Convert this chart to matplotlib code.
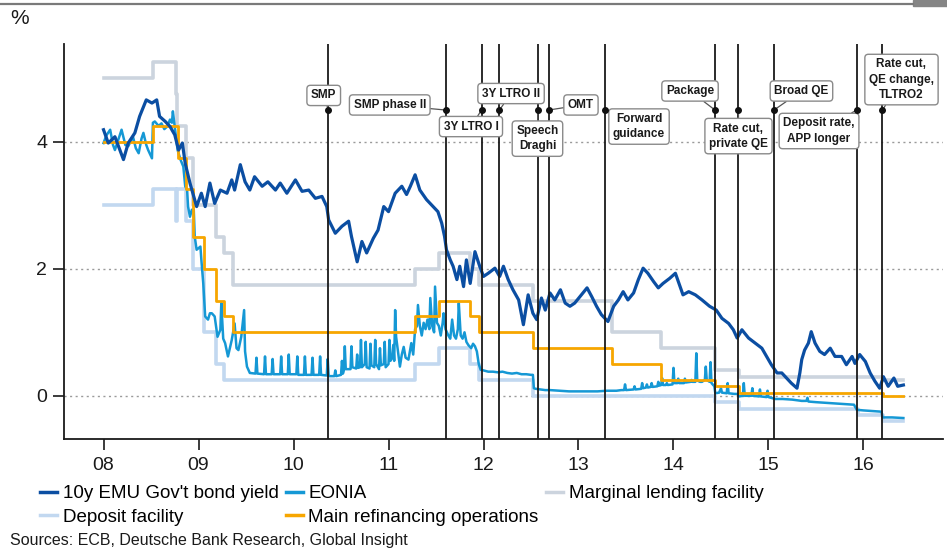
import matplotlib
matplotlib.use("Agg")
import matplotlib.pyplot as plt
import pandas as pd
from matplotlib.lines import Line2D
from matplotlib.patches import Rectangle

plt.rcParams['font.family'] = ['Liberation Sans', 'DejaVu Sans']

# ---------------- data ----------------
bond_t = [2008.00, 2008.05, 2008.12, 2008.21, 2008.26, 2008.33, 2008.38, 2008.45, 2008.51, 2008.56,
          2008.59, 2008.65, 2008.70, 2008.75, 2008.79, 2008.83, 2008.86, 2008.91, 2008.95, 2008.98,
          2009.03, 2009.07, 2009.12, 2009.17, 2009.23, 2009.30, 2009.35, 2009.38, 2009.44, 2009.49,
          2009.54, 2009.59, 2009.67, 2009.73, 2009.81, 2009.86, 2009.93, 2010.02, 2010.09, 2010.16,
          2010.23, 2010.30, 2010.35, 2010.37, 2010.44, 2010.51, 2010.58, 2010.61, 2010.67, 2010.72,
          2010.77, 2010.84, 2010.89, 2010.95, 2011.00, 2011.07, 2011.14, 2011.19, 2011.23, 2011.28,
          2011.33, 2011.40, 2011.47, 2011.52, 2011.56, 2011.59, 2011.61, 2011.65, 2011.68, 2011.72,
          2011.75, 2011.79, 2011.82, 2011.86, 2011.91, 2011.96, 2012.00, 2012.05, 2012.12, 2012.17,
          2012.21, 2012.26, 2012.31, 2012.37, 2012.42, 2012.47, 2012.52, 2012.56, 2012.61, 2012.65,
          2012.70, 2012.75, 2012.81, 2012.86, 2012.91, 2012.96, 2013.03, 2013.09, 2013.14, 2013.19,
          2013.24, 2013.31, 2013.37, 2013.42, 2013.47, 2013.52, 2013.58, 2013.63, 2013.68, 2013.73,
          2013.79, 2013.84, 2013.89, 2013.96, 2014.02, 2014.07, 2014.10, 2014.16, 2014.23, 2014.30,
          2014.38, 2014.45, 2014.51, 2014.58, 2014.63, 2014.67, 2014.72, 2014.79, 2014.86, 2014.93,
          2014.98, 2015.03, 2015.09, 2015.14, 2015.19, 2015.24, 2015.30, 2015.33, 2015.35, 2015.38,
          2015.42, 2015.45, 2015.49, 2015.54, 2015.59, 2015.65, 2015.70, 2015.77, 2015.82, 2015.88,
          2015.91, 2015.96, 2016.02, 2016.07, 2016.12, 2016.17, 2016.21, 2016.26, 2016.32, 2016.36,
          2016.42]
bond_v = [4.19, 3.98, 4.08, 3.72, 3.98, 4.14, 4.40, 4.66, 4.61, 4.66,
          4.40, 4.32, 4.24, 4.11, 3.87, 3.98, 3.66, 3.35, 3.14, 2.98,
          3.19, 2.98, 3.35, 3.03, 3.24, 3.19, 3.40, 3.24, 3.64, 3.37,
          3.24, 3.45, 3.30, 3.37, 3.24, 3.35, 3.19, 3.40, 3.22, 3.24,
          3.11, 3.14, 2.98, 2.77, 2.56, 2.67, 2.75, 2.51, 2.11, 2.43,
          2.25, 2.48, 2.61, 2.98, 2.90, 3.19, 3.30, 3.17, 3.30, 3.48,
          3.24, 3.09, 2.98, 2.90, 2.72, 2.51, 2.30, 2.14, 2.04, 1.83,
          2.04, 1.72, 2.14, 1.77, 2.27, 2.04, 1.88, 1.93, 2.01, 1.88,
          2.04, 1.83, 1.67, 1.51, 1.12, 1.59, 1.30, 1.20, 1.54, 1.35,
          1.62, 1.51, 1.67, 1.46, 1.41, 1.46, 1.59, 1.70, 1.56, 1.41,
          1.28, 1.17, 1.41, 1.51, 1.64, 1.51, 1.62, 1.83, 2.01, 1.93,
          1.80, 1.70, 1.77, 1.85, 1.93, 1.72, 1.59, 1.64, 1.59, 1.51,
          1.41, 1.35, 1.22, 1.14, 1.04, 0.91, 1.04, 0.91, 0.83, 0.75,
          0.62, 0.49, 0.36, 0.36, 0.28, 0.20, 0.12, 0.36, 0.57, 0.72,
          0.83, 1.01, 0.83, 0.70, 0.65, 0.75, 0.62, 0.62, 0.49, 0.62,
          0.51, 0.65, 0.54, 0.36, 0.23, 0.12, 0.30, 0.15, 0.28, 0.15,
          0.17]

eonia_t = [2008.00, 2008.03, 2008.07, 2008.10, 2008.12, 2008.16, 2008.19, 2008.23, 2008.26, 2008.31,
           2008.34, 2008.37, 2008.40, 2008.42, 2008.45, 2008.47, 2008.51, 2008.52, 2008.54, 2008.58,
           2008.61, 2008.64, 2008.67, 2008.70, 2008.72, 2008.73, 2008.75, 2008.78, 2008.81, 2008.84,
           2008.86, 2008.88, 2008.89, 2008.91, 2008.93, 2008.95, 2008.96, 2008.98, 2009.02, 2009.03,
           2009.05, 2009.07, 2009.10, 2009.12, 2009.14, 2009.17, 2009.20, 2009.23, 2009.24, 2009.26,
           2009.28, 2009.31, 2009.35, 2009.38, 2009.40, 2009.42, 2009.45, 2009.48, 2009.49, 2009.51,
           2009.54,
           2009.60, 2009.61, 2009.62, 2009.69, 2009.70, 2009.71, 2009.77, 2009.78, 2009.79,
           2009.86, 2009.87, 2009.88, 2009.94, 2009.95, 2009.96, 2010.03, 2010.04, 2010.05,
           2010.11, 2010.12, 2010.13, 2010.19, 2010.20, 2010.21, 2010.27, 2010.28, 2010.29,
           2010.35, 2010.36, 2010.37, 2010.43, 2010.44, 2010.45, 2010.50, 2010.51, 2010.52,
           2010.53, 2010.54, 2010.55, 2010.60, 2010.61, 2010.62, 2010.66, 2010.67, 2010.68,
           2010.70, 2010.71, 2010.72, 2010.75, 2010.76, 2010.77, 2010.80, 2010.81, 2010.82,
           2010.85, 2010.86, 2010.87, 2010.90, 2010.91, 2010.92, 2010.95, 2010.96, 2010.97,
           2011.00, 2011.01, 2011.02, 2011.04, 2011.05, 2011.06,
           2011.07, 2011.08, 2011.10, 2011.12, 2011.14, 2011.16, 2011.18, 2011.21, 2011.23, 2011.24,
           2011.26, 2011.28, 2011.30, 2011.31, 2011.33, 2011.35, 2011.37, 2011.39, 2011.41, 2011.43,
           2011.44, 2011.46, 2011.48, 2011.49, 2011.51, 2011.53, 2011.55, 2011.57, 2011.58, 2011.60,
           2011.63, 2011.65, 2011.67, 2011.69, 2011.71, 2011.73, 2011.74, 2011.76, 2011.78, 2011.80,
           2011.82, 2011.84, 2011.87, 2011.89, 2011.91, 2011.93, 2011.95, 2011.97, 2012.00, 2012.05,
           2012.10, 2012.15, 2012.20, 2012.25, 2012.30, 2012.35, 2012.40, 2012.45, 2012.50, 2012.52,
           2012.53, 2012.55, 2012.60, 2012.65, 2012.70, 2012.80, 2012.90, 2013.00, 2013.10, 2013.20,
           2013.30, 2013.40, 2013.45, 2013.48, 2013.49, 2013.50, 2013.58, 2013.59, 2013.60, 2013.66,
           2013.67, 2013.68, 2013.71, 2013.72, 2013.73, 2013.76, 2013.77, 2013.78, 2013.83, 2013.84,
           2013.85, 2013.87, 2013.88, 2013.89, 2013.92, 2013.93, 2013.94, 2013.99, 2014.00, 2014.01,
           2014.04, 2014.05, 2014.06, 2014.11, 2014.12, 2014.13, 2014.18, 2014.19, 2014.20, 2014.23,
           2014.24, 2014.25, 2014.28, 2014.30, 2014.33, 2014.34, 2014.35, 2014.38, 2014.39, 2014.40,
           2014.43, 2014.44, 2014.48, 2014.50, 2014.51, 2014.56, 2014.57, 2014.58, 2014.64, 2014.67,
           2014.69, 2014.73, 2014.74, 2014.75, 2014.82, 2014.83, 2014.84, 2014.90, 2014.91, 2014.92,
           2014.98, 2014.99, 2015.00, 2015.07, 2015.15, 2015.25, 2015.35, 2015.40, 2015.41, 2015.42,
           2015.50, 2015.60, 2015.70, 2015.80, 2015.90, 2015.93, 2016.00, 2016.10, 2016.19, 2016.20,
           2016.30, 2016.42]
eonia_v = [3.98, 4.10, 4.19, 3.95, 3.87, 4.05, 4.19, 3.95, 3.93, 4.08,
           3.90, 3.82, 4.05, 4.14, 3.95, 3.87, 3.74, 4.30, 4.32, 4.25,
           4.29, 4.20, 4.24, 4.35, 4.30, 4.48, 4.24, 3.87, 3.72, 3.61,
           3.30, 3.24, 2.98, 2.82, 2.93, 2.93, 2.51, 2.30, 2.35, 2.14,
           1.77, 1.25, 1.20, 1.30, 1.30, 1.25, 0.93, 1.04, 1.46, 0.90,
           0.83, 0.62, 0.88, 1.14, 0.75, 0.72, 0.93, 1.35, 0.70, 0.46,
           0.36,
           0.35, 0.60, 0.35, 0.34, 0.62, 0.34, 0.34, 0.58, 0.34,
           0.34, 0.62, 0.34, 0.34, 0.65, 0.34, 0.34, 0.62, 0.33,
           0.33, 0.62, 0.33, 0.33, 0.60, 0.33, 0.33, 0.62, 0.33,
           0.32, 0.58, 0.31, 0.31, 0.40, 0.31, 0.33, 0.55, 0.35,
           0.40, 0.78, 0.42, 0.42, 0.78, 0.45, 0.43, 0.65, 0.44,
           0.45, 0.88, 0.45, 0.50, 0.85, 0.45, 0.43, 0.82, 0.48,
           0.45, 0.88, 0.50, 0.42, 0.75, 0.48, 0.50, 0.85, 0.45,
           0.50, 0.88, 0.55, 0.60, 0.80, 0.55,
           1.35, 0.93, 0.70, 0.46, 0.65, 0.77, 0.60, 0.57, 0.75, 0.83,
           0.65, 1.05, 1.10, 1.43, 1.10, 0.95, 1.15, 1.05, 1.20, 1.05,
           1.54, 1.10, 1.00, 1.72, 1.15, 1.10, 0.95, 1.15, 1.30, 1.05,
           0.95, 0.90, 1.20, 0.95, 0.90, 1.05, 1.46, 0.95, 0.90, 1.00,
           0.85, 0.80, 0.75, 0.82, 0.78, 0.70, 0.50, 0.41, 0.40, 0.38,
           0.38, 0.37, 0.38, 0.36, 0.35, 0.36, 0.34, 0.34, 0.33, 0.33,
           0.12, 0.11, 0.10, 0.09, 0.09, 0.08, 0.07, 0.07, 0.07, 0.07,
           0.08, 0.08, 0.09, 0.09, 0.18, 0.09, 0.10, 0.15, 0.10, 0.11,
           0.20, 0.12, 0.13, 0.18, 0.13, 0.14, 0.20, 0.14, 0.15, 0.22,
           0.16, 0.17, 0.28, 0.17, 0.17, 0.20, 0.17, 0.18, 0.44, 0.20,
           0.20, 0.27, 0.20, 0.20, 0.27, 0.21, 0.22, 0.25, 0.22, 0.22,
           0.67, 0.24, 0.22, 0.22, 0.25, 0.46, 0.25, 0.22, 0.53, 0.20,
           0.15, 0.04, 0.05, 0.12, 0.05, 0.04, 0.20, 0.04, 0.03, 0.03,
           -0.01, 0.00, 0.20, 0.00, 0.00, 0.12, 0.00, -0.01, 0.10, -0.01,
           -0.02, 0.08, -0.02, -0.05, -0.05, -0.06, -0.08, -0.08, -0.03, -0.09,
           -0.10, -0.11, -0.12, -0.13, -0.14, -0.22, -0.23, -0.24, -0.25, -0.34,
           -0.34, -0.35]

rate_dates = ['2008-01-01', '2008-07-09', '2008-10-08', '2008-10-09', '2008-10-15', '2008-11-12',
              '2008-12-10', '2009-01-21', '2009-03-11', '2009-04-08', '2009-05-13', '2011-04-13',
              '2011-07-13', '2011-11-09', '2011-12-14', '2012-07-11', '2013-05-08', '2013-11-13',
              '2014-06-11', '2014-09-10', '2015-12-09', '2016-03-16', '2016-06-03']
mlf_rate = [5.00, 5.25, 4.75, 4.25, 4.25, 3.75, 3.00, 3.00, 2.50, 2.25, 1.75, 2.00,
            2.25, 2.00, 1.75, 1.50, 1.00, 0.75, 0.40, 0.30, 0.30, 0.25, 0.25]
mro_rate = [4.00, 4.25, 4.25, 4.25, 3.75, 3.25, 2.50, 2.00, 1.50, 1.25, 1.00, 1.25,
            1.50, 1.25, 1.00, 0.75, 0.50, 0.25, 0.15, 0.05, 0.05, 0.00, 0.00]
dep_rate = [3.00, 3.25, 2.75, 3.25, 3.25, 2.75, 2.00, 1.00, 0.50, 0.25, 0.25, 0.50,
            0.75, 0.50, 0.25, 0.00, 0.00, 0.00, -0.10, -0.20, -0.30, -0.40, -0.40]

event_t = [2010.367, 2011.605, 2011.979, 2012.168, 2012.571, 2012.686, 2013.274,
           2014.437, 2014.684, 2015.058, 2015.929, 2016.200]
event_label = ['SMP', 'SMP phase II', '3Y LTRO I', '3Y LTRO II', 'Speech\nDraghi', 'OMT',
               'Forward\nguidance', 'Package', 'Rate cut,\nprivate QE', 'Broad QE',
               'Deposit rate,\nAPP longer', 'Rate cut,\nQE change,\nTLTRO2']
label_x = [2010.318, 2011.013, 2011.868, 2012.290, 2012.568, 2013.026, 2013.637,
           2014.174, 2014.684, 2015.347, 2015.532, 2016.400]
label_y = [4.73, 4.58, 4.24, 4.76, 4.05, 4.58, 4.24, 4.80, 4.09, 4.80, 4.17, 4.98]
event_dot_y = 4.5

year_ticks = [2008, 2009, 2010, 2011, 2012, 2013, 2014, 2015, 2016]
year_labels = ['08', '09', '10', '11', '12', '13', '14', '15', '16']
y_ticks = [0, 2, 4]


def dec_year(s):
    d = pd.Timestamp(s)
    ndays = 366 if d.is_leap_year else 365
    return d.year + (d.dayofyear - 1) / ndays


rate_t = [dec_year(s) for s in rate_dates]

# ---------------- figure ----------------
W, H = 947, 551
fig = plt.figure(figsize=(W / 100, H / 100), dpi=100)
ax = fig.add_axes([64 / W, 1 - 439 / H, (943 - 64) / W, (439 - 44) / H])
ax.set_xlim(2007.584, 2016.837)
ax.set_ylim(-0.68, 5.54)

for yv in y_ticks:
    ax.axhline(yv, color='#9a9a9a', lw=1.0, ls=(0, (1.5, 2.5)), zorder=0.5)

c_bond = '#0B4EA2'
c_eonia = '#1598D5'
c_mlf = '#CCD4DE'
c_dep = '#C2D8F0'
c_mro = '#F7A600'

l_mlf, = ax.step(rate_t, mlf_rate, where='post', color=c_mlf, lw=2.6, zorder=1)
l_dep, = ax.step(rate_t, dep_rate, where='post', color=c_dep, lw=2.6, zorder=1.1)
l_eon, = ax.plot(eonia_t, eonia_v, color=c_eonia, lw=1.8, zorder=2)
l_mro, = ax.step(rate_t, mro_rate, where='post', color=c_mro, lw=2.0, zorder=2.2)
l_bond, = ax.plot(bond_t, bond_v, color=c_bond, lw=2.3, zorder=2.5)

for t in event_t:
    ax.axvline(t, color='#1a1a1a', lw=1.3, zorder=3)
ax.scatter(event_t, [event_dot_y] * len(event_t), s=16, color='#111111', zorder=7)

for t, lab, lx, ly in zip(event_t, event_label, label_x, label_y):
    ax.annotate(lab, xy=(t, event_dot_y), xytext=(lx, ly), ha='center', va='center',
                fontsize=8.5, fontweight='bold', color='#1a1a1a', linespacing=1.35,
                bbox=dict(boxstyle='round,pad=0.35,rounding_size=0.3', fc='white',
                          ec='#8a8a8a', lw=1.0),
                arrowprops=dict(arrowstyle='-', color='#555555', lw=0.9,
                                shrinkA=0, shrinkB=0),
                zorder=6)

ax.set_xticks(year_ticks)
ax.set_xticklabels(year_labels)
ax.set_yticks(y_ticks)
ax.set_yticklabels([str(v) for v in y_ticks])
ax.tick_params(axis='both', direction='out', length=8, width=1.2, color='#1a1a1a',
               labelsize=14, labelcolor='#1a1a1a')
ax.tick_params(axis='x', pad=5)
ax.tick_params(axis='y', pad=4)
for side in ['top', 'right']:
    ax.spines[side].set_visible(False)
for side in ['left', 'bottom']:
    ax.spines[side].set_color('#1a1a1a')
    ax.spines[side].set_linewidth(1.3)

handles = [l_bond, l_dep, l_eon, l_mro, l_mlf]
labels = ["10y EMU Gov't bond yield", 'Deposit facility', 'EONIA',
          'Main refinancing operations', 'Marginal lending facility']
leg_handles = [Line2D([], [], color=h.get_color(), lw=2.5) for h in handles]
fig.legend(leg_handles, labels, ncol=3, loc='upper left',
           bbox_to_anchor=(40 / W, 1 - 485 / H), frameon=False, fontsize=13.5,
           handlelength=0.9, handletextpad=0.3, columnspacing=0.4,
           borderaxespad=0, borderpad=0, labelspacing=0.35)

fig.text(10 / W, 1 - 541 / H, 'Sources: ECB, Deutsche Bank Research, Global Insight',
         fontsize=11.5, va='center', ha='left', color='#1a1a1a')
fig.text(10 / W, 1 - 18 / H, '%', fontsize=15, va='center', ha='left', color='#1a1a1a')

# top decoration rule
fig.add_artist(Line2D([0, 913 / W], [1 - 3.8 / H, 1 - 3.8 / H], color='#7a7a7a', lw=1.6,
                      transform=fig.transFigure))
fig.add_artist(Rectangle((913 / W, 1 - 5.5 / H), 34 / W, 5.5 / H, color='#858585',
                         transform=fig.transFigure))

fig.savefig('out.png', dpi=100)
